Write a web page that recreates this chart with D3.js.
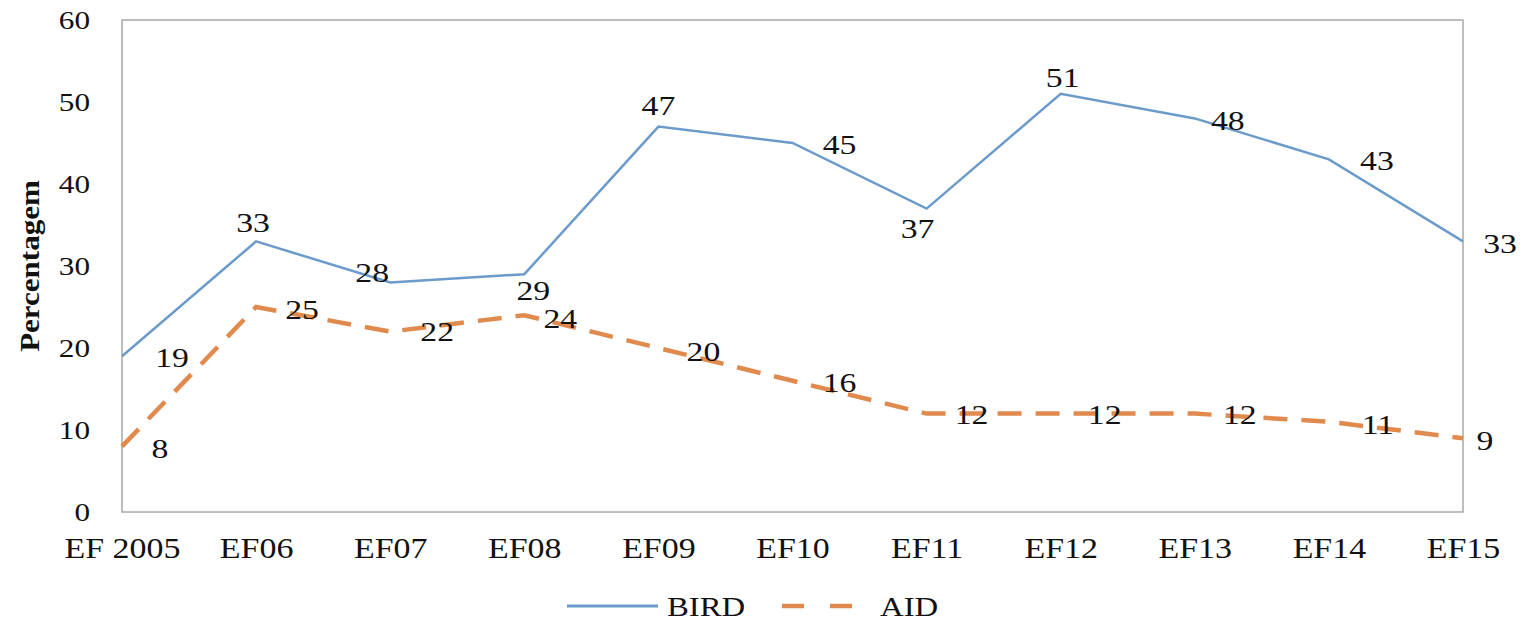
<!DOCTYPE html>
<html lang="pt">
<head>
  <meta charset="UTF-8">
  <title>BIRD vs AID</title>
  <script src="https://d3js.org/d3.v7.min.js"></script>
  <style>
    body {
      margin: 0;
      background: white;
    }
    svg text {
      font-family: "Liberation Serif", "Times New Roman", serif;
      fill: #111;
    }
  </style>
</head>
<body>
  <svg id="chart"></svg>
  <script>
    // data
    const categories = ["EF 2005", "EF06", "EF07", "EF08", "EF09", "EF10", "EF11", "EF12", "EF13", "EF14", "EF15"];
    const bird = [19, 33, 28, 29, 47, 45, 37, 51, 48, 43, 33];
    const aid = [8, 25, 22, 24, 20, 16, 12, 12, 12, 11, 9];
    const yTicks = [0, 10, 20, 30, 40, 50, 60];

    // where each value label sits relative to its point (px)
    const birdLabelOffsets = [[50, 1], [-3, -19], [-18, -10], [9, 16], [0, -21], [47, 2], [-9, 20], [2, -16], [33, 2], [48, 1], [37, 2]];
    const aidLabelOffsets = [[38, 2], [46, 3], [47, 0], [36, 3], [45, 4], [47, 2], [45, 1], [44, 1], [45, 1], [49, 3], [22, 2]];

    const width = 1538;
    const height = 623;
    const plot = { left: 122, right: 1463, top: 20, bottom: 512 };
    const blue = "#6b9bcb";
    const orange = "#e08a4d";
    const stretch = 1.2; // the original text is a bit wide

    const svg = d3.select("#chart")
      .attr("width", width)
      .attr("height", height);

    const x = d3.scalePoint().domain(categories).range([plot.left, plot.right]);
    const y = d3.scaleLinear().domain([0, 60]).range([plot.bottom, plot.top]);

    // frame
    svg.append("rect")
      .attr("x", plot.left)
      .attr("y", plot.top)
      .attr("width", plot.right - plot.left)
      .attr("height", plot.bottom - plot.top)
      .attr("fill", "none")
      .attr("stroke", "#a8a8a8")
      .attr("stroke-width", 1.5);

    // y axis
    const yAxis = svg.append("g")
      .attr("transform", `translate(${plot.left},0)`)
      .call(d3.axisLeft(y).tickValues(yTicks).tickSize(0).tickPadding(0));
    yAxis.select(".domain").remove();
    yAxis.selectAll("text")
      .attr("x", -32 / stretch)
      .attr("dy", "0.34em")
      .attr("transform", `scale(${stretch},1)`)
      .style("font-size", "26px")
      .style("font-family", "Liberation Serif, serif")
      .attr("fill", "#111");

    // x axis
    const xAxis = svg.append("g")
      .attr("transform", `translate(0,${plot.bottom})`)
      .call(d3.axisBottom(x).tickSize(0).tickPadding(0));
    xAxis.select(".domain").remove();
    xAxis.selectAll("text")
      .attr("y", 46)
      .attr("dy", 0)
      .attr("transform", "scale(1.17,1)")
      .style("font-size", "29px")
      .style("font-family", "Liberation Serif, serif")
      .attr("fill", "#111");

    // y title
    svg.append("text")
      .attr("transform", "translate(39,266) rotate(-90) scale(1.15,1)")
      .attr("text-anchor", "middle")
      .style("font-size", "27px")
      .style("font-weight", "bold")
      .text("Percentagem");

    const line = d3.line()
      .x((d, i) => x(categories[i]))
      .y(d => y(d));

    svg.append("path")
      .datum(bird)
      .attr("d", line)
      .attr("fill", "none")
      .attr("stroke", blue)
      .attr("stroke-width", 2.5);

    svg.append("path")
      .datum(aid)
      .attr("d", line)
      .attr("fill", "none")
      .attr("stroke", orange)
      .attr("stroke-width", 4.5)
      .attr("stroke-dasharray", "24,14");

    function addLabels(values, offsets) {
      svg.append("g").selectAll("text")
        .data(values)
        .join("text")
          .attr("transform", (d, i) =>
            `translate(${x(categories[i]) + offsets[i][0]},${y(d) + offsets[i][1]}) scale(1.25,1)`)
          .attr("text-anchor", "middle")
          .attr("dy", "0.35em")
          .style("font-size", "27px")
          .text(d => d);
    }
    addLabels(bird, birdLabelOffsets);
    addLabels(aid, aidLabelOffsets);

    // legend
    const legend = svg.append("g").attr("transform", "translate(0,606)");
    legend.append("line")
      .attr("x1", 567).attr("x2", 658)
      .attr("stroke", blue).attr("stroke-width", 3);
    legend.append("text")
      .attr("transform", "translate(667,10) scale(1.17,1)")
      .style("font-size", "28px")
      .text("BIRD");
    legend.append("line")
      .attr("x1", 782).attr("x2", 858)
      .attr("stroke", orange).attr("stroke-width", 4.5)
      .attr("stroke-dasharray", "22,26");
    legend.append("text")
      .attr("transform", "translate(880,10) scale(1.17,1)")
      .style("font-size", "28px")
      .text("AID");
  </script>
</body>
</html>
